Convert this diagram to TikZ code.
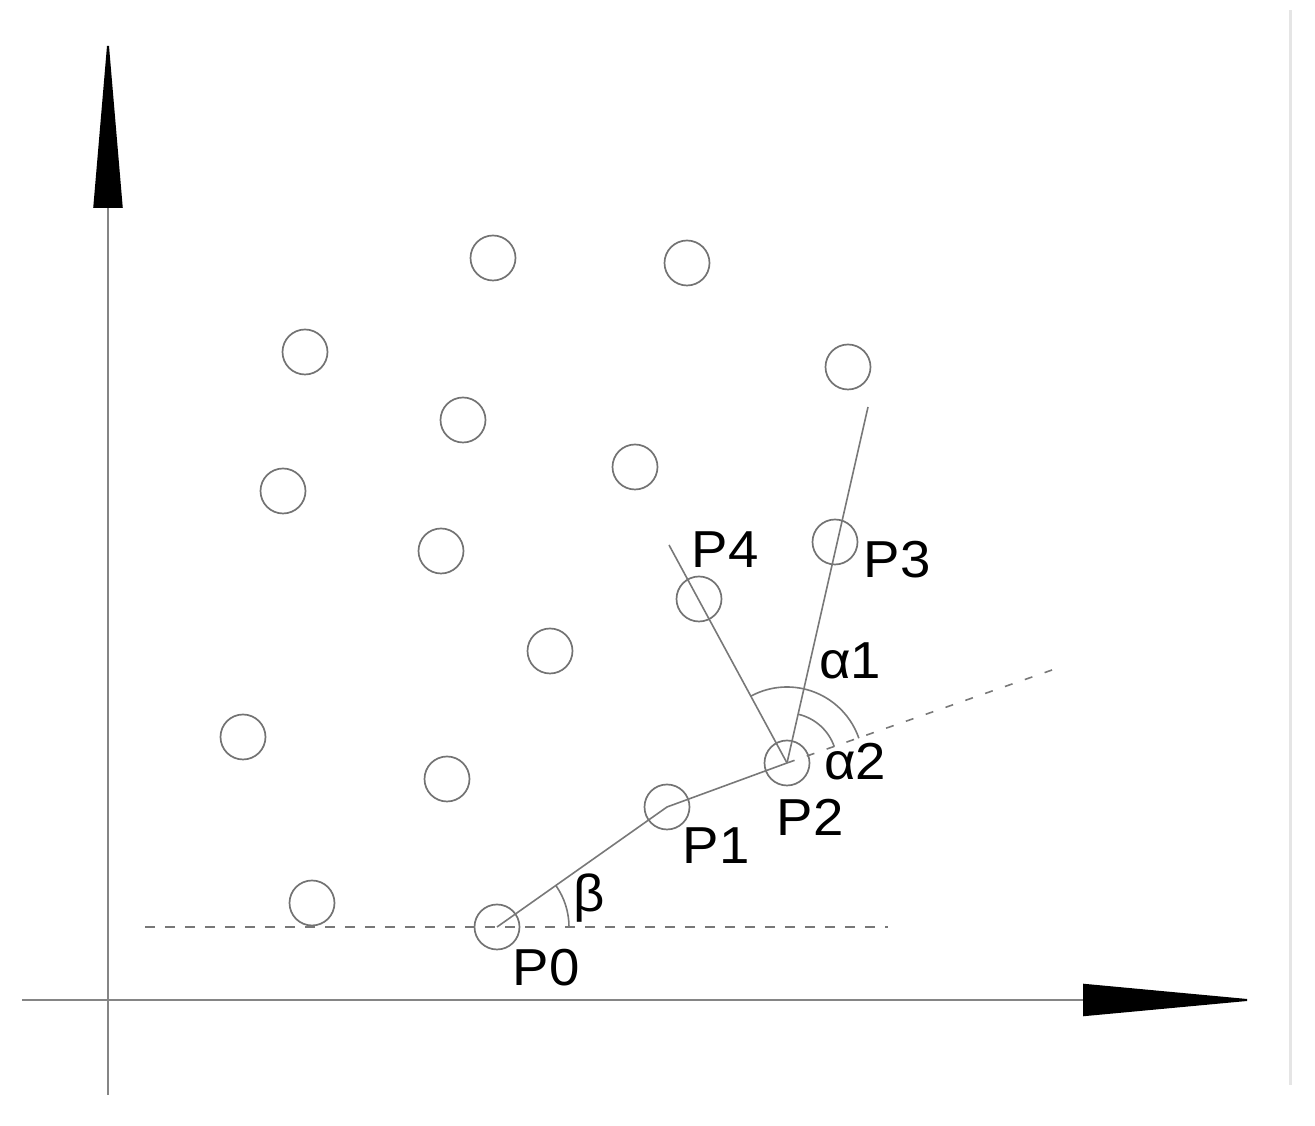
\documentclass[tikz,border=0pt]{standalone}
\usepackage{fontspec}
\newfontfamily\labfont[FakeStretch=1.05]{Liberation Sans}
\usetikzlibrary{arrows.meta}
\definecolor{linegray}{gray}{0.47}
\definecolor{circgray}{gray}{0.45}
\definecolor{axisgray}{gray}{0.52}
\definecolor{edgegray}{gray}{0.9}
\begin{document}
\begin{tikzpicture}[x=1pt,y=1pt,
  pt/.style={circle,draw=circgray,line width=1.7pt,minimum size=45pt,inner sep=0pt},
  seg/.style={draw=linegray,line width=1.6pt},
  dline/.style={draw=linegray,line width=1.6pt,dash pattern=on 10pt off 10pt},
  dline2/.style={draw=linegray,line width=1.6pt,dash pattern=on 8pt off 13pt},
  axisline/.style={draw=axisgray,line width=2pt},
  lab/.style={inner sep=0pt,font=\labfont\fontsize{52}{56}\selectfont,text=black}]
\useasboundingbox (0,0) rectangle (1315,1126);
% right edge line
\draw[edgegray,line width=3pt] (1290,41) -- (1290,1116);
% axes
\coordinate (yb) at (108,31);
\coordinate (yt) at (108,1092);
\coordinate (xl) at (22,126);
\coordinate (xr) at (1258,126);
\draw[axisline,-{Triangle[length=174pt,width=29pt,color=black]}] (yb) -- (yt);
\draw[axisline,-{Triangle[length=175pt,width=32pt,color=black]}] (xl) -- (xr);
% points
\node[pt] (c1) at (493,868) {};
\node[pt] (c2) at (687,863) {};
\node[pt] (c3) at (305,774) {};
\node[pt] (c4) at (848,759) {};
\node[pt] (c5) at (463,706) {};
\node[pt] (c6) at (635,659) {};
\node[pt] (c7) at (283,635) {};
\node[pt] (c8) at (441,575) {};
\node[pt] (P3) at (835,584) {};
\node[pt] (P4) at (699,527) {};
\node[pt] (c9) at (550,475) {};
\node[pt] (c10) at (243,389) {};
\node[pt] (c11) at (447,347) {};
\node[pt] (P2) at (787,363) {};
\node[pt] (P1) at (667,319) {};
\node[pt] (c12) at (312,223) {};
\node[pt] (P0) at (497,199) {};
% guide lines
\coordinate (hl) at (145,199);
\coordinate (hr) at (888,199);
\draw[dline] (hl) -- (hr);
\coordinate (ext) at (1052,456);
\draw[dline2] (P2.center) -- (ext);
% path
\draw[seg] (P0.center) -- (P1.center) -- (P2.center);
\coordinate (e4) at (669,581);
\coordinate (e3) at (868,719);
\draw[seg] (P2.center) -- (e4);
\draw[seg] (P2.center) -- (e3);
% angle arcs
\draw[seg] ([shift={(19:76)}]P2.center) arc[start angle=19,end angle=118.4,radius=76];
\draw[seg] ([shift={(19:50)}]P2.center) arc[start angle=19,end angle=77.2,radius=50];
\draw[seg] ([shift={(0:72)}]P0.center) arc[start angle=0,end angle=35,radius=72];
% labels
\node[lab] (l0) at (546,158) {P0};
\node[lab] (l1) at (716,280) {P1};
\node[lab] (l2) at (810,309) {P2};
\node[lab] (l3) at (897,566) {P3};
\node[lab] (l4) at (725,576) {P4};
\node[lab] (la1) at (850,465) {α1};
\node[lab] (la2) at (855,364) {α2};
\node[lab] (lb) at (589,228) {β};
\end{tikzpicture}
\end{document}
